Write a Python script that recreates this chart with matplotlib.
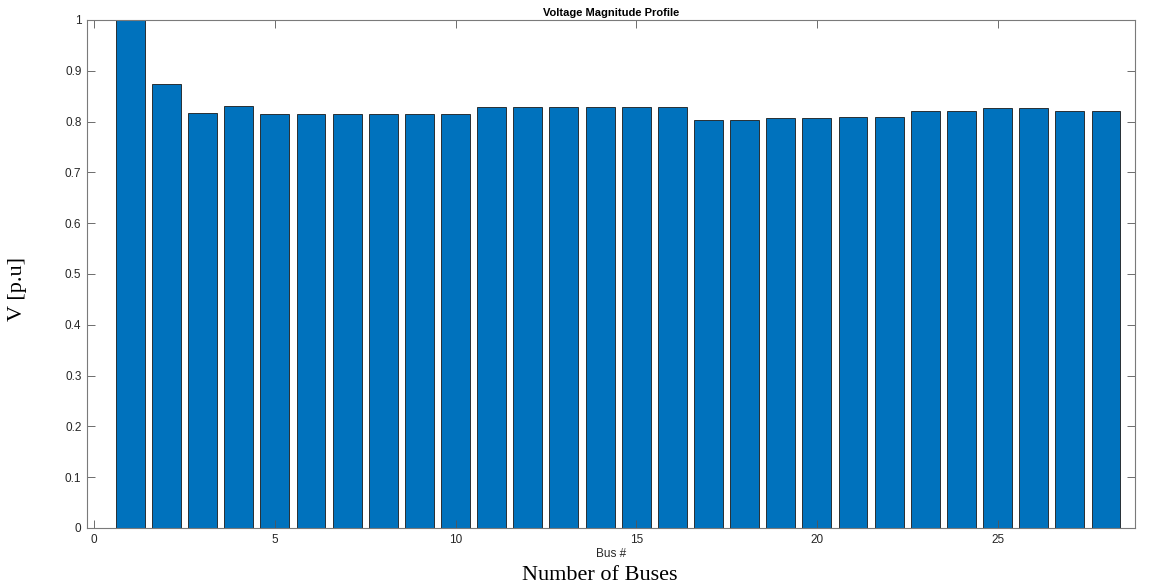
import matplotlib
matplotlib.use('Agg')
from matplotlib import pyplot as plt

# bus numbers and voltage magnitudes (p.u.)
buses = list(range(1, 29))
voltage = [1.000, 0.873, 0.816, 0.830, 0.815, 0.815, 0.815, 0.815, 0.815, 0.815,
           0.828, 0.828, 0.828, 0.828, 0.828, 0.828, 0.804, 0.804, 0.806, 0.806,
           0.808, 0.808, 0.820, 0.820, 0.827, 0.827, 0.820, 0.820]
x_ticks = [0, 5, 10, 15, 20, 25]
y_ticks = [0, 0.1, 0.2, 0.3, 0.4, 0.5, 0.6, 0.7, 0.8, 0.9, 1]

plt.rcParams['font.family'] = ['Liberation Sans', 'DejaVu Sans']
grey = '#262626'

fig = plt.figure(figsize=(11.49, 5.86), dpi=100)
ax = fig.add_axes([0.0757, 0.099, 0.912, 0.867])

ax.bar(buses, voltage, width=0.8, color='#0072BD', edgecolor='#1a1a1a', linewidth=0.6)

ax.set_xlim(-0.2, 28.8)
ax.set_ylim(0, 1)
ax.set_xticks(x_ticks)
ax.set_yticks(y_ticks)
ax.yaxis.set_major_formatter(plt.FuncFormatter(lambda v, p: '%g' % v))

ax.tick_params(direction='in', top=True, right=True, length=6, width=0.6,
               labelsize=8.5, colors='#555555', labelcolor=grey, pad=4)
for s in ax.spines.values():
    s.set_color('#7a7a7a')
    s.set_linewidth(0.8)

# 标题和坐标轴标签
ax.set_title('Voltage Magnitude Profile', fontsize=8, fontweight='bold', pad=3, color='black')
ax.set_xlabel('Bus #', fontsize=8.5, color=grey, labelpad=2)

fig.text(0.522, 0.011, 'Number of Buses', fontsize=16, family='Liberation Serif',
         ha='center', va='baseline')
fig.text(0.015, 0.507, 'V [p.u]', fontsize=16, family='Liberation Serif',
         ha='center', va='center', rotation=90)

fig.savefig('out.png', dpi=100)
